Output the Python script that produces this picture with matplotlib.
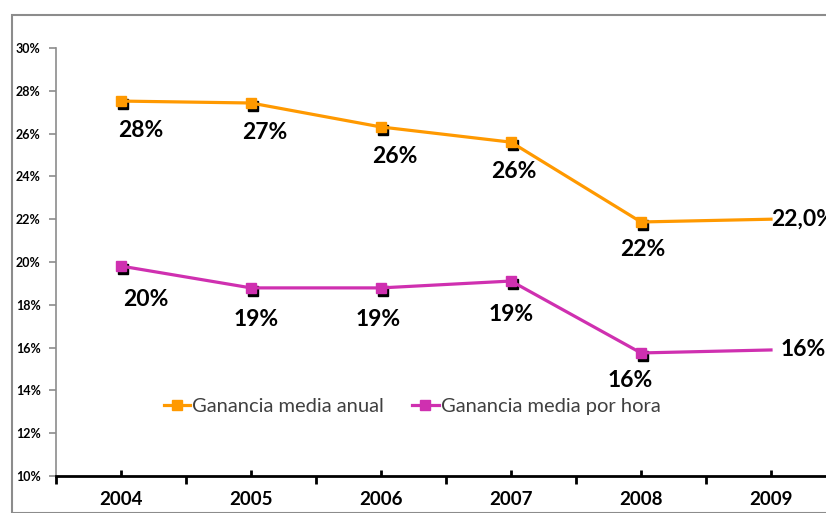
import numpy as np
import matplotlib.pyplot as plt
from matplotlib import transforms
from matplotlib.patches import Rectangle

years = ["2004", "2005", "2006", "2007", "2008", "2009"]
anual = [27.52, 27.43, 26.31, 25.60, 21.87, 22.00]
hora = [19.81, 18.79, 18.79, 19.11, 15.75, 15.89]
anual_labels = ["28%", "27%", "26%", "26%", "22%", "22,0%"]
hora_labels = ["20%", "19%", "19%", "19%", "16%", "16%"]
series_names = ["Ganancia media anual", "Ganancia media por hora"]

orange = "#FF9900"
pink = "#CF30B0"

plt.rcParams["font.family"] = ["Lato", "DejaVu Sans"]

fig = plt.figure(figsize=(8.26, 5.13), dpi=100)
ax = fig.add_axes([56/826, 1-476/513, 780/826, 428/513])

# outer chart border
fig.patches.append(Rectangle((12/826, 0), 1.0, 1-15/513, transform=fig.transFigure,
                             fill=False, edgecolor="#8c8c8c", linewidth=1.5))

x = np.arange(len(years))
shadow = transforms.offset_copy(ax.transData, fig=fig, x=2, y=-3, units="dots")

for vals, col, name in [(anual, orange, series_names[0]), (hora, pink, series_names[1])]:
    ax.plot(x[:5], vals[:5], linestyle="none", marker="s", markersize=7,
            color="black", transform=shadow, zorder=2)
    ax.plot(x, vals, color=col, linewidth=2.3, marker="s", markersize=7,
            markevery=list(range(5)), label=name, zorder=3)

# data labels (offsets in points)
anual_off = [(14, -21), (10, -21), (10, -21), (2, -21), (1, -20)]
hora_off = [(18, -24), (4, -23), (-2, -23), (0, -24), (-8, -20)]
for i in range(5):
    ax.annotate(anual_labels[i], (x[i], anual[i]), xytext=anual_off[i], textcoords="offset points",
                ha="center", va="center", fontsize=16.5, fontweight="bold")
    ax.annotate(hora_labels[i], (x[i], hora[i]), xytext=hora_off[i], textcoords="offset points",
                ha="center", va="center", fontsize=16.5, fontweight="bold")
ax.annotate(anual_labels[5], (x[5], anual[5]), xytext=(0, 0), textcoords="offset points",
            ha="left", va="center", fontsize=16.5, fontweight="bold")
ax.annotate(hora_labels[5], (x[5], hora[5]), xytext=(7, 0), textcoords="offset points",
            ha="left", va="center", fontsize=16.5, fontweight="bold")

ax.set_xlim(-0.5, 5.5)
ax.set_ylim(10, 30)
ax.set_yticks(np.arange(10, 31, 2))
ax.set_yticklabels(["%d%%" % v for v in range(10, 31, 2)])
ax.set_xticks(x)
ax.set_xticklabels(years)
ax.set_xticks(np.arange(-0.5, 6, 1), minor=True)

for s in ["top", "right"]:
    ax.spines[s].set_visible(False)
ax.spines["left"].set_color("#8c8c8c")
ax.spines["left"].set_linewidth(1.2)
ax.spines["bottom"].set_color("black")
ax.spines["bottom"].set_linewidth(2)

ax.tick_params(axis="y", colors="#8c8c8c", length=5, width=1.2, labelcolor="black",
               labelsize=9, pad=6)
for t in ax.get_yticklabels():
    t.set_fontweight("bold")
ax.tick_params(axis="x", which="major", direction="in", length=4, width=2,
               labelsize=13.5, pad=11)
ax.tick_params(axis="x", which="minor", direction="out", length=6, width=2)
for t in ax.get_xticklabels():
    t.set_fontweight("bold")

leg = fig.legend(loc="center", bbox_to_anchor=(0.499, 0.207), ncol=2, frameon=False,
                 fontsize=14.5, handlelength=1.3, handletextpad=0.1, columnspacing=1.4,
                 markerscale=1.0)
for t in leg.get_texts():
    t.set_color("#404040")

fig.savefig("out.png", dpi=100)
